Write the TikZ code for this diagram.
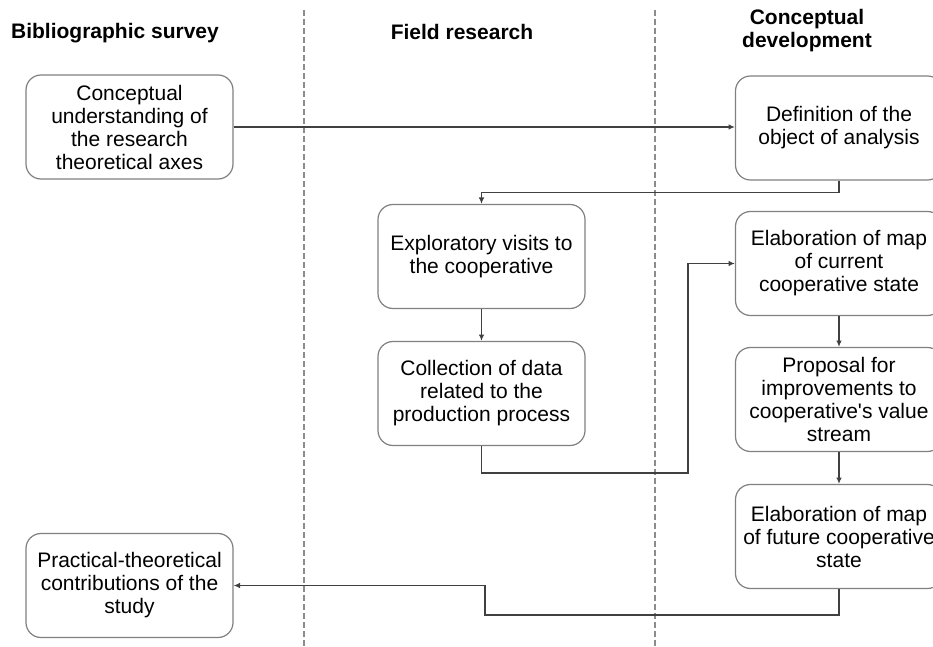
\documentclass[tikz,border=0pt]{standalone}
\usepackage{fontspec}
\setmainfont{Liberation Sans}
\usetikzlibrary{arrows.meta}

\begin{document}
\begin{tikzpicture}[x=0.5pt,y=-0.5pt,
    stepbox/.style={draw=black!50,line width=0.6pt,rounded corners=7.5pt,align=center,
      minimum width=103.5pt,minimum height=52pt,inner sep=1pt,
      font=\fontsize{10.5}{11.5}\selectfont},
    head/.style={align=center,font=\fontsize{10.5}{11.5}\selectfont\bfseries},
    conn/.style={draw=black!75,line width=0.6pt,-{Latex[length=3.2pt,width=2.8pt]}},
    sep/.style={draw=black!45,line width=0.7pt,dash pattern=on 3pt off 1.5pt}]
    \useasboundingbox (0,0) rectangle (933,647);
    % column separators
    \draw[sep] (304,10) -- (304,647);
    \draw[sep] (655,10) -- (655,647);
    % column headings
    \node[head] (hbib) at (115,33) {Bibliographic survey};
    \node[head] (hfield) at (462,32) {Field research};
    \node[head] (hconc) at (807,31) {Conceptual\\development};
    % steps
    \node[stepbox] (axes) at (129.5,127) {Conceptual\\understanding of\\the research\\theoretical axes};
    \node[stepbox] (object) at (839,128) {Definition of the\\object of analysis};
    \node[stepbox] (visits) at (481.5,256.5) {Exploratory visits to\\the cooperative};
    \node[stepbox] (data) at (481.5,393.5) {Collection of data\\related to the\\production process};
    \node[stepbox] (current) at (839,263.5) {Elaboration of map\\of current\\cooperative state};
    \node[stepbox] (proposal) at (839,399.5) {Proposal for\\improvements to\\cooperative\textquotesingle s value\\stream};
    \node[stepbox] (future) at (839,536.5) {Elaboration of map\\of future cooperative\\state};
    \node[stepbox] (contrib) at (129.5,585.5) {Practical-theoretical\\contributions of the\\study};
    % bend points
    \coordinate (bendA) at (688,473);
    \coordinate (bendB) at (485,615);
    % connectors
    \draw[conn] (axes.east) -- (axes.east -| object.west);
    \draw[conn] (object.south) -- ++(0,12) -| (visits.north);
    \draw[conn] (visits) -- (data);
    \draw[conn] (data.south) |- (bendA) |- (current.west);
    \draw[conn] (current) -- (proposal);
    \draw[conn] (proposal) -- (future);
    \draw[conn] (future.south) |- (bendB) |- (contrib.east);
\end{tikzpicture}
\end{document}
